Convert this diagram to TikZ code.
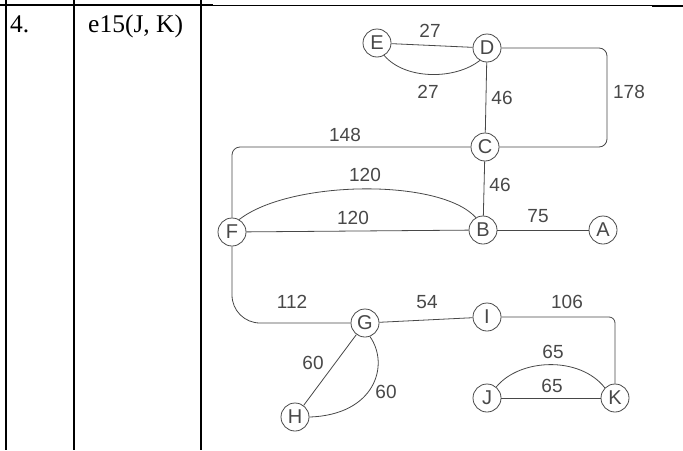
\documentclass[tikz,border=0pt]{standalone}
\usepackage{fontspec}
\setmainfont{Liberation Serif}
\newfontfamily\handfont{Liberation Sans}
\usepackage{tikz}
\usetikzlibrary{positioning, calc}
\definecolor{pencil}{RGB}{72,72,72}

\begin{document}
\begin{tikzpicture}[
    x=1pt, y=-1pt,
    vertex/.style={circle, draw=pencil, line width=0.8pt, minimum size=28pt, inner sep=0pt, text=pencil, font=\handfont\fontsize{20}{20}\selectfont},
    edge/.style={draw=pencil, line width=0.8pt},
    weight/.style={inner sep=0pt, text=pencil, font=\handfont\fontsize{19}{19}\selectfont},
    rule/.style={line width=2pt},
    cell/.style={anchor=base west, inner sep=0pt, font=\fontsize{25.5}{30}\selectfont}
]
\useasboundingbox (0,0) rectangle (683,450);

% Table
\draw[rule] (6,0) -- (6,450);
\draw[rule] (73.5,0) -- (73.5,450);
\draw[rule] (200.5,0) -- (200.5,450);
\draw[rule] (0,5) -- (213,5);
\draw[line width=1pt] (213,5) -- (652,5);
\draw[rule] (652,6) -- (683,6);
\node[cell] (num) at (10,32) {4.};
\node[cell] (pair) at (88,32) {e15(J, K)};

% Vertices
\node[vertex] (e) at (377,43) {E};
\node[vertex] (d) at (487,48) {D};
\node[vertex] (c) at (485,147) {C};
\node[vertex] (f) at (232,232) {F};
\node[vertex] (b) at (483,230) {B};
\node[vertex] (a) at (603,230) {A};
\node[vertex] (g) at (365,323) {G};
\node[vertex] (i) at (487,317) {I};
\node[vertex] (h) at (295,417) {H};
\node[vertex] (j) at (487,398) {J};
\node[vertex] (k) at (615,398) {K};
\coordinate (dc) at (607,95);

% Edges
\draw[edge] (e) -- (d);
\draw[edge] (e.300) .. controls (405,80) and (455,80) .. (d.240);
\draw[edge] (d) -- (c);
\draw[edge, rounded corners=8pt] (d.east) -| (dc) |- (c.east);
\draw[edge, rounded corners=8pt] (c.west) -| (f.north);
\draw[edge] (c) -- (b);
\draw[edge] (f) -- (b);
\draw[edge] (f.60) .. controls (290,180) and (440,178) .. (b.120);
\draw[edge] (b) -- (a);
\draw[edge, rounded corners=28pt] (f.south) |- (g.west);
\draw[edge] (g) -- (i);
\draw[edge, rounded corners=6pt] (i.east) -| (k.north);
\draw[edge] (g) -- (h);
\draw[edge] (g.290) .. controls (390,365) and (375,415) .. (h.east);
\draw[edge] (j) -- (k);
\draw[edge] (j.50) .. controls (520,358) and (580,356) .. (k.135);

% Weights
\node[weight] (w-ed) at (430,31) {27};
\node[weight] (w-ed2) at (428,92) {27};
\node[weight] (w-dc) at (502,98) {46};
\node[weight] (w-dc2) at (629,92) {178};
\node[weight] (w-cf) at (345,135) {148};
\node[weight] (w-cb) at (500,185) {46};
\node[weight] (w-fb2) at (365,175) {120};
\node[weight] (w-fb) at (353,218) {120};
\node[weight] (w-ba) at (538,216) {75};
\node[weight] (w-fg) at (292,302) {112};
\node[weight] (w-gi) at (427,302) {54};
\node[weight] (w-ik) at (567,302) {106};
\node[weight] (w-gh) at (313,363) {60};
\node[weight] (w-gh2) at (386,392) {60};
\node[weight] (w-jk2) at (553,352) {65};
\node[weight] (w-jk) at (552,386) {65};

\end{tikzpicture}
\end{document}
